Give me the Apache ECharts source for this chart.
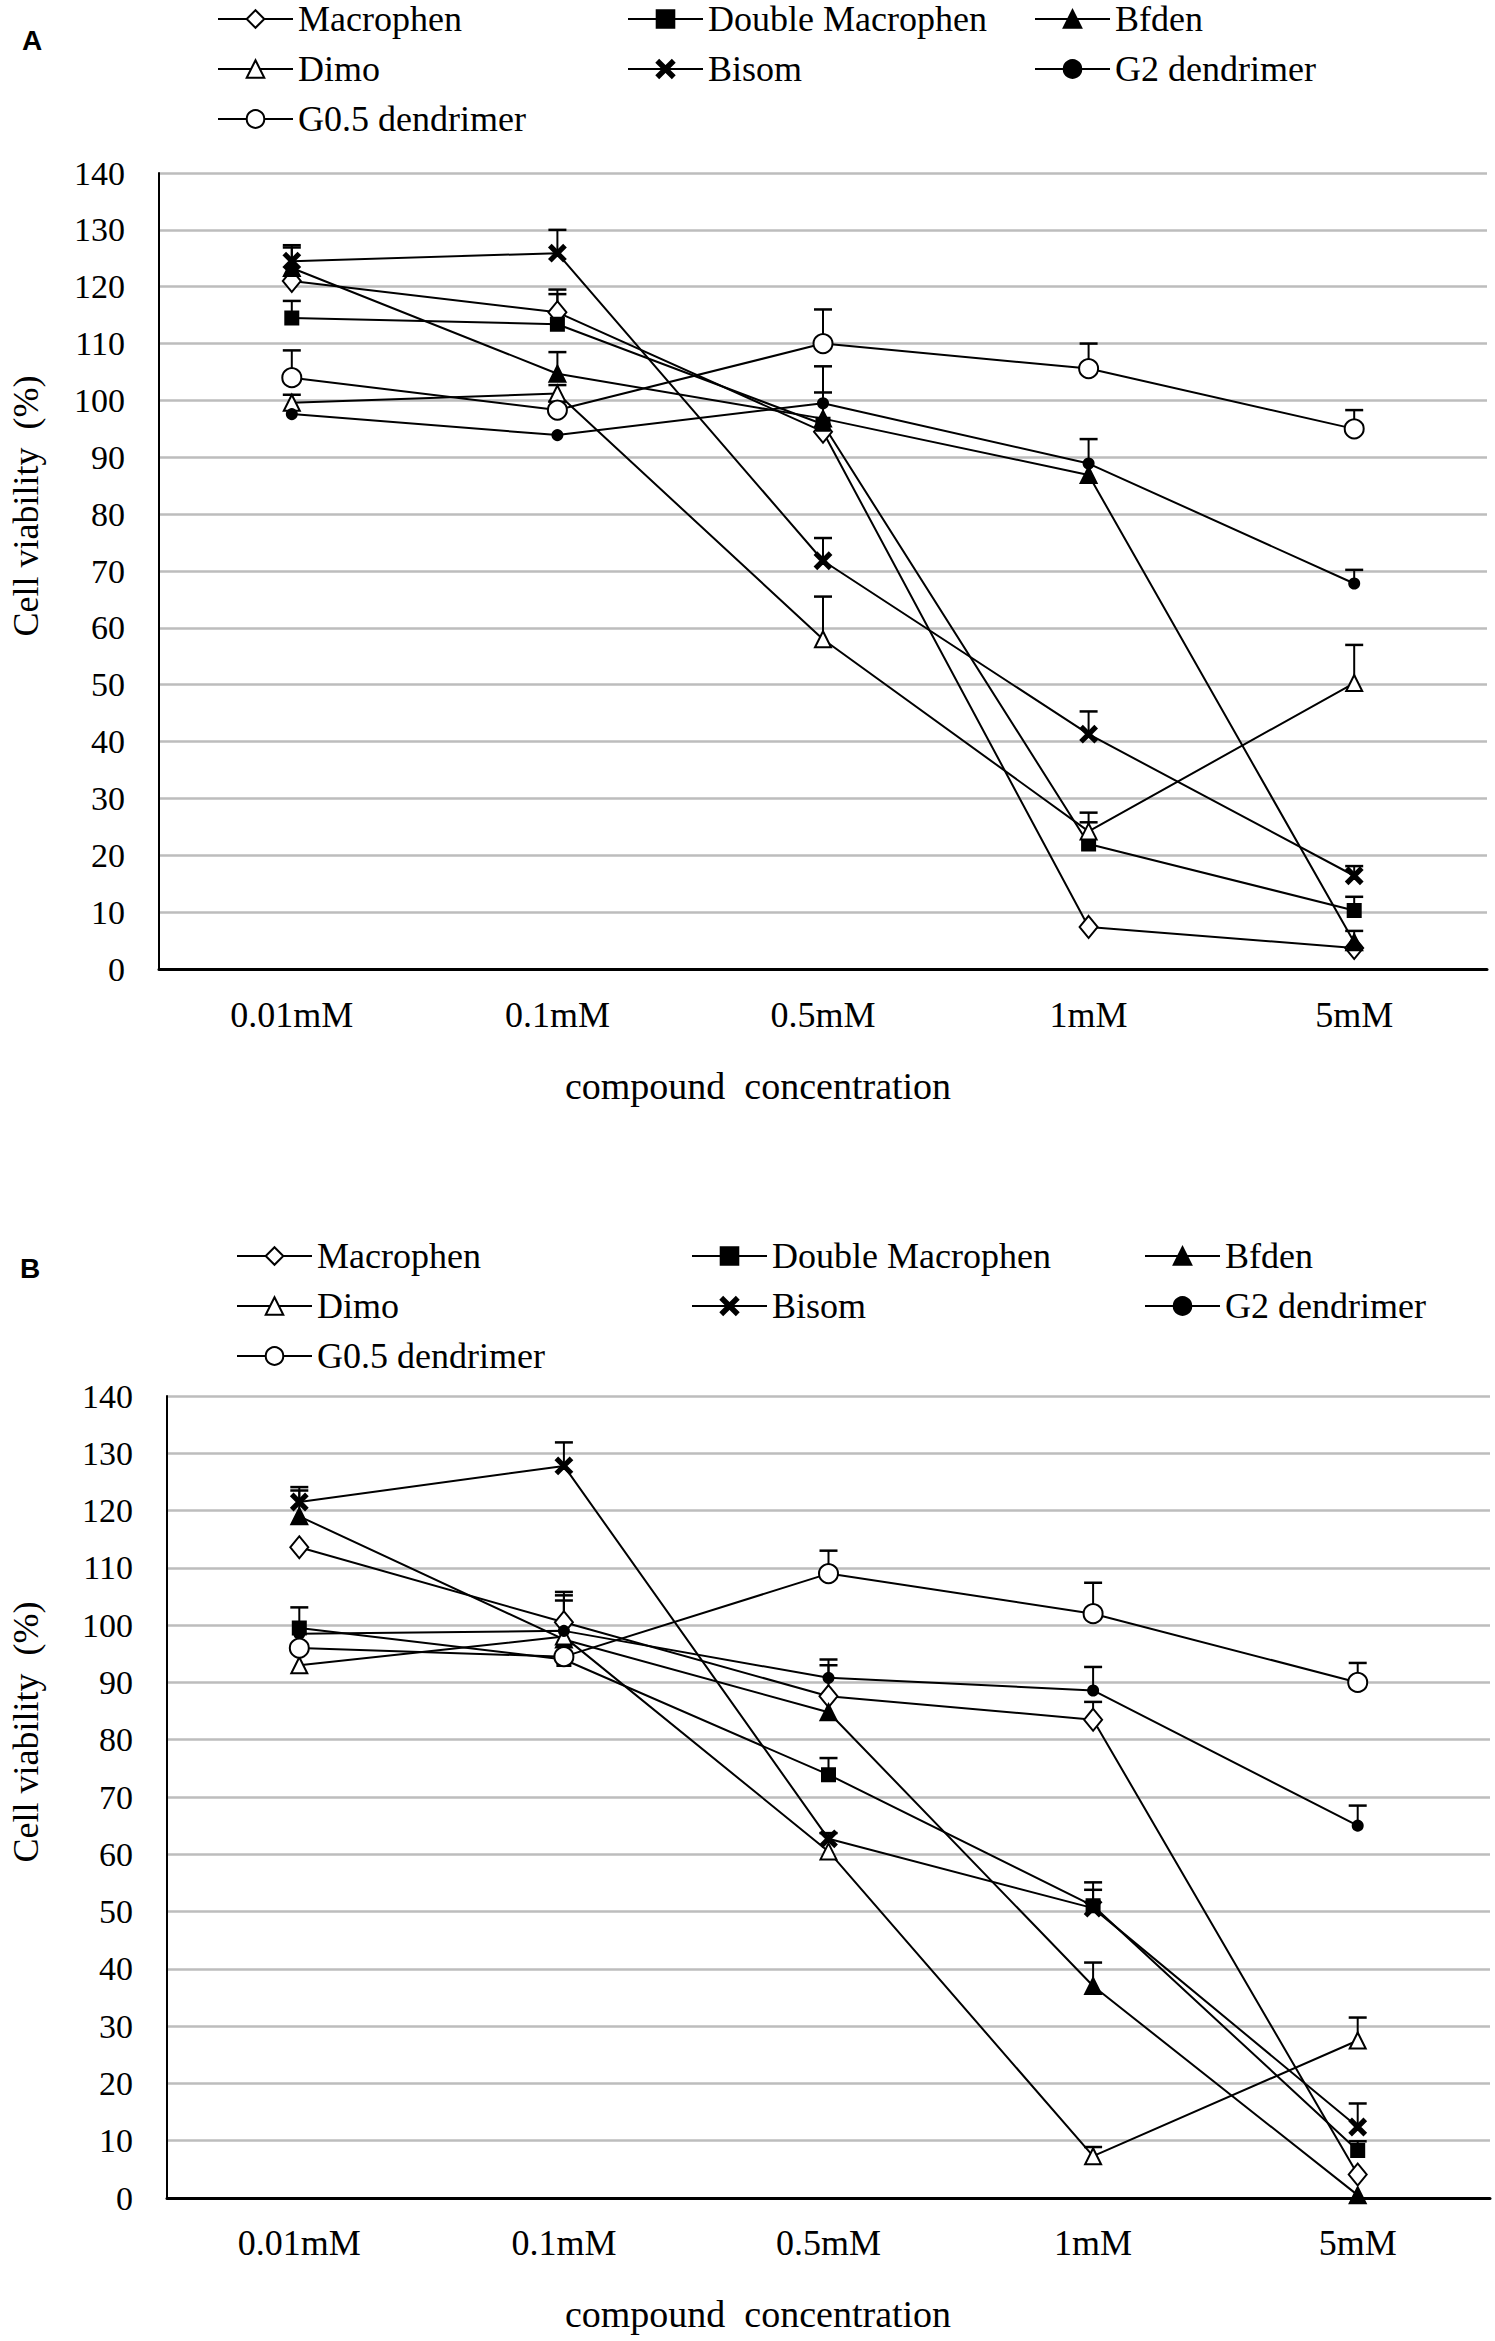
<!DOCTYPE html>
<html>
<head>
<meta charset="utf-8">
<script src="https://cdn.jsdelivr.net/npm/echarts@6/dist/echarts.min.js"></script>
<style>
  html, body { margin: 0; padding: 0; background: #fff; }
  #chart { width: 1495px; height: 2341px; }
</style>
</head>
<body>
<div id="chart"></div>
<script>
const cats = ['0.01mM', '0.1mM', '0.5mM', '1mM', '5mM']
const yTicks = [0, 10, 20, 30, 40, 50, 60, 70, 80, 90, 100, 110, 120, 130, 140]
const names = ['Macrophen', 'Double Macrophen', 'Bfden', 'Dimo', 'Bisom', 'G2 dendrimer', 'G0.5 dendrimer']

// panel A: cell viability (%)
const macA = [121, 115.5, 94.5, 7.4, 3.7]
const dmacA = [114.5, 113.4, 95.8, 22, 10.3]
const bfdA = [123.3, 104.7, 96.8, 86.9, 4.7]
const dimoA = [99.6, 101.2, 58, 24.2, 50.3]
const bisA = [124.5, 125.9, 71.8, 41.3, 16.4]
const g2A = [97.6, 93.9, 99.5, 88.9, 67.8]
const g05A = [104, 98.3, 110, 105.6, 95]
// panel A: upper error
const macErrA = [0, 4, 0, 0, 0]
const dmacErrA = [3, 5.3, 0, 3.8, 2.4]
const bfdErrA = [3.6, 3.8, 4.6, 0, 2]
const dimoErrA = [1.4, 1.5, 7.5, 3.3, 6.7]
const bisErrA = [2.8, 4.1, 4, 4, 1.7]
const g2ErrA = [0, 0, 6.5, 4.3, 2.4]
const g05ErrA = [4.8, 1.5, 6, 4.4, 3.3]

// panel B: cell viability (%)
const macB = [113.6, 100.5, 87.6, 83.5, 4.1]
const dmacB = [99.5, 94, 73.9, 51, 8.3]
const bfdB = [119, 97.5, 84.8, 37, 0.5]
const dimoB = [93, 98, 60.5, 7.3, 27.5]
const bisB = [121.5, 127.8, 62.7, 50.6, 12.4]
const g2B = [98.5, 99, 90.8, 88.6, 65]
const g05B = [96, 94.5, 109, 102, 90]
// panel B: upper error
const macErrB = [0, 4.7, 5.4, 3.1, 0]
const dmacErrB = [3.6, 0, 2.9, 2.8, 1.6]
const bfdErrB = [4.5, 0, 0, 4.1, 0]
const dimoErrB = [0, 6.3, 0, 1.6, 4]
const bisErrB = [2.6, 4.1, 1, 4.5, 4.1]
const g2ErrB = [0, 6.8, 3.2, 4.1, 3.5]
const g05ErrB = [0, 0, 4, 5.4, 3.4]

const serif = '"Liberation Serif", "Times New Roman", serif'
const xPath = 'path://M0,1.4L1.4,0L5,3.6L8.6,0L10,1.4L6.4,5L10,8.6L8.6,10L5,6.4L1.4,10L0,8.6L3.6,5Z'

const marks = {
  'Macrophen': { symbol: 'emptyDiamond', size: [18, 22] },
  'Double Macrophen': { symbol: 'rect', size: 13 },
  'Bfden': { symbol: 'triangle', size: 16 },
  'Dimo': { symbol: 'emptyTriangle', size: 16 },
  'Bisom': { symbol: xPath, size: 16 },
  'G2 dendrimer': { symbol: 'circle', size: 10 },
  'G0.5 dendrimer': { symbol: 'emptyCircle', size: 19 }
}

const panelA = [macA, dmacA, bfdA, dimoA, bisA, g2A, g05A]
const errA = [macErrA, dmacErrA, bfdErrA, dimoErrA, bisErrA, g2ErrA, g05ErrA]
const panelB = [macB, dmacB, bfdB, dimoB, bisB, g2B, g05B]
const errB = [macErrB, dmacErrB, bfdErrB, dimoErrB, bisErrB, g2ErrB, g05ErrB]

function errorBars(params, api) {
  const i = api.value(0)
  const v = api.value(1)
  const e = api.value(2)
  const p0 = api.coord([i, v])
  const p1 = api.coord([i, v + e])
  return {
    type: 'group',
    children: [
      { type: 'line', shape: { x1: p0[0], y1: p0[1], x2: p1[0], y2: p1[1] }, style: { stroke: '#000', lineWidth: 2 } },
      { type: 'line', shape: { x1: p1[0] - 9, y1: p1[1], x2: p1[0] + 9, y2: p1[1] }, style: { stroke: '#000', lineWidth: 2.5 } }
    ]
  }
}

function buildSeries(vals, errs, idx) {
  const out = []
  names.forEach((n, k) => {
    out.push({
      name: n,
      type: 'line',
      xAxisIndex: idx,
      yAxisIndex: idx,
      data: vals[k],
      symbol: marks[n].symbol,
      symbolSize: marks[n].size,
      showAllSymbol: true,
      lineStyle: { color: '#000', width: 2 },
      itemStyle: { color: '#000', borderColor: '#000', borderWidth: 2 },
      z: 3
    })
  })
  names.forEach((n, k) => {
    const d = []
    errs[k].forEach((e, i) => { if (e > 0) d.push([i, vals[k][i], e]) })
    out.push({
      name: n + ' error',
      type: 'custom',
      xAxisIndex: idx,
      yAxisIndex: idx,
      renderItem: errorBars,
      encode: { x: 0, y: 1 },
      data: d,
      z: 2
    })
  })
  return out
}

function buildLegends(cols, rows) {
  const order = [[0, 1, 2], [3, 4, 5], [6]]
  const out = []
  order.forEach((row, r) => {
    row.forEach((k, c) => {
      out.push({
        data: [names[k]],
        left: cols[c],
        top: rows[r] - 20,
        itemWidth: 75,
        itemHeight: 22,
        padding: 0,
        selectedMode: false,
        textStyle: { fontFamily: serif, fontSize: 36, color: '#000', lineHeight: 40 }
      })
    })
  })
  return out
}

function xAxisOf(idx, margin) {
  return {
    type: 'category',
    gridIndex: idx,
    data: cats,
    boundaryGap: true,
    axisTick: { show: false },
    axisLine: { lineStyle: { color: '#000', width: 3 } },
    axisLabel: { fontFamily: serif, fontSize: 36, color: '#000', margin: margin },
    splitLine: { show: false }
  }
}

function yAxisOf(idx, margin) {
  return {
    type: 'value',
    gridIndex: idx,
    min: yTicks[0],
    max: yTicks[yTicks.length - 1],
    interval: 10,
    axisLine: { show: true, lineStyle: { color: '#000', width: 2 } },
    axisTick: { show: false },
    axisLabel: { fontFamily: serif, fontSize: 34, color: '#000', margin: margin },
    splitLine: { lineStyle: { color: '#bdbdbd', width: 2.5 } }
  }
}

const chart = echarts.init(document.getElementById('chart'), null, { renderer: 'svg' })

const option = {
  animation: false,
  backgroundColor: '#fff',
  grid: [
    { left: 159, top: 173, width: 1328, height: 796 },
    { left: 167, top: 1396, width: 1323, height: 802 }
  ],
  xAxis: [xAxisOf(0, 28), xAxisOf(1, 27)],
  yAxis: [yAxisOf(0, 34), yAxisOf(1, 34)],
  legend: buildLegends([217, 627, 1034], [19, 69, 119])
    .concat(buildLegends([236, 691, 1144], [1256, 1306, 1356])),
  graphic: [
    { type: 'text', left: 22, top: 26, style: { text: 'A', font: 'bold 28px "Liberation Sans", Arial, sans-serif', fill: '#000' } },
    { type: 'text', left: 20, top: 1254, style: { text: 'B', font: 'bold 28px "Liberation Sans", Arial, sans-serif', fill: '#000' } },
    { type: 'text', x: 26, y: 506, rotation: Math.PI / 2, style: { text: 'Cell viability  (%)', font: '36px ' + serif, fill: '#000', align: 'center', verticalAlign: 'middle' } },
    { type: 'text', x: 26, y: 1732, rotation: Math.PI / 2, style: { text: 'Cell viability  (%)', font: '36px ' + serif, fill: '#000', align: 'center', verticalAlign: 'middle' } },
    { type: 'text', x: 758, y: 1086, style: { text: 'compound  concentration', font: '38px ' + serif, fill: '#000', align: 'center', verticalAlign: 'middle' } },
    { type: 'text', x: 758, y: 2314, style: { text: 'compound  concentration', font: '38px ' + serif, fill: '#000', align: 'center', verticalAlign: 'middle' } }
  ],
  series: buildSeries(panelA, errA, 0).concat(buildSeries(panelB, errB, 1))
}

chart.setOption(option)
</script>
</body>
</html>
